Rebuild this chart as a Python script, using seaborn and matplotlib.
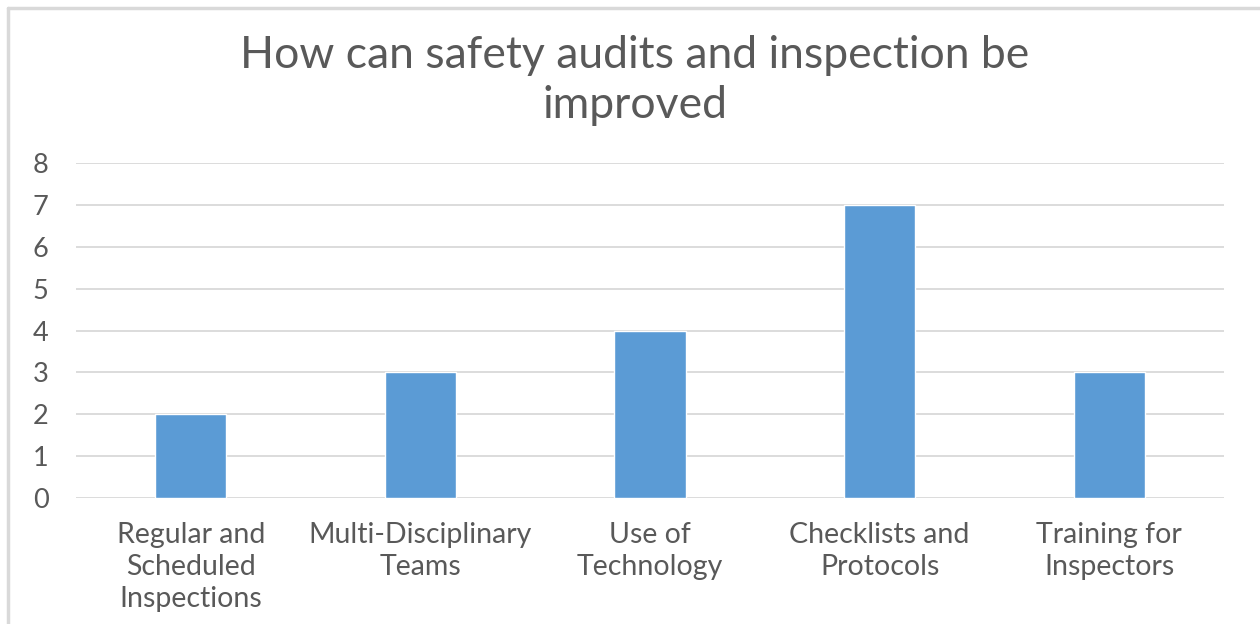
import matplotlib
matplotlib.use("Agg")
import matplotlib.pyplot as plt
import seaborn as sns
import pandas as pd
from matplotlib.lines import Line2D

categories = ["Regular and\nScheduled\nInspections", "Multi-Disciplinary\nTeams",
              "Use of\nTechnology", "Checklists and\nProtocols", "Training for\nInspectors"]
values = [2, 3, 4, 7, 3]
yticks = [0, 1, 2, 3, 4, 5, 6, 7, 8]
title = "How can safety audits and inspection be\nimproved"

sns.set_theme(style="white")
plt.rcParams['font.family'] = ['Lato', 'DejaVu Sans']

text_color = "#595959"
grid_color = "#D9D9D9"
bar_color = "#5B9BD5"

fig = plt.figure(figsize=(12.6, 6.24), dpi=100)
ax = fig.add_axes([0.0603, 0.2019, 0.9111, 0.5369])

df = pd.DataFrame({"cat": categories, "val": values})
sns.barplot(data=df, x="cat", y="val", color=bar_color, width=0.31,
            saturation=1, ax=ax, zorder=3)

ax.set_ylim(0, 8)
ax.set_xlim(-0.5, len(categories) - 0.5)
ax.set_yticks(yticks)
ax.set_yticklabels([str(t) for t in yticks])
for t in yticks:
    ax.axhline(t, color=grid_color, lw=1.3, zorder=1)
ax.set_xlabel("")
ax.set_ylabel("")
for s in ax.spines.values():
    s.set_visible(False)
ax.tick_params(axis="x", length=0, pad=17, labelsize=20.5, labelcolor=text_color)
ax.tick_params(axis="y", length=0, pad=31, labelsize=19.5, labelcolor=text_color)
for lbl in ax.get_xticklabels():
    lbl.set_linespacing(1.3)
for lbl in ax.get_yticklabels():
    lbl.set_horizontalalignment("left")

fig.text(0.504, 0.871, title, ha="center", va="center", fontsize=32,
         color=text_color, linespacing=1.27)

# chart frame (top and left edges visible)
fig.add_artist(Line2D([8/1260, 1], [1 - 8/624, 1 - 8/624], transform=fig.transFigure,
                      color="#D9D9D9", lw=2.5))
fig.add_artist(Line2D([8/1260, 8/1260], [0, 1 - 8/624], transform=fig.transFigure,
                      color="#D9D9D9", lw=2.5))

fig.savefig("out.png", dpi=100, facecolor="white")
